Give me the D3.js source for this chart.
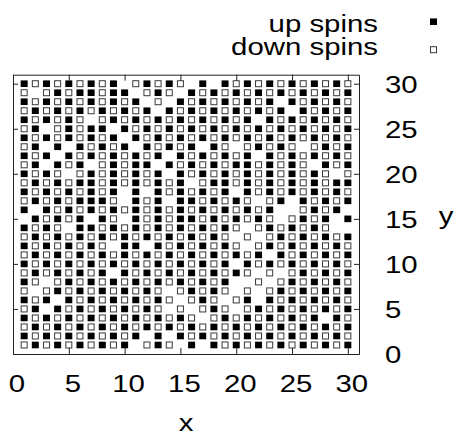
<!DOCTYPE html>
<html>
<head>
<meta charset="utf-8">
<script src="https://cdn.jsdelivr.net/npm/d3@7"></script>
<style>
  html, body { margin: 0; padding: 0; background: #fff; }
  svg { display: block; }
</style>
</head>
<body>
<svg id="chart" width="454" height="436"></svg>
<script>
// Tick values on both axes
const xTicks = [0, 5, 10, 15, 20, 25, 30];
const yTicks = [0, 5, 10, 15, 20, 25, 30];

// Lattice state, one string per row from y = 30 (top) down to y = 1,
// one character per site x = 1..30: U = up spin, D = down spin, . = empty site
const spinRows = [
  "UDUDUDUDU.DUDUD.U.UDUDUDUDUDUD",
  "D.DUDUUDUU.DUD.UDUDUDUDUDUDUDU",
  "UDUDUDUDUDU.D.UDUDUDUDU.UDUDUD",
  "DUDUDUDUDUDU.UDUDUDUDUDU.UDUDU",
  "UDUDUD.DUDUDUDUDUDUDU.UDUDUDUD",
  "DU.DUDUU.UDUDUDUDUDUDUDUDUDUDU",
  "UDUDUDUDU.UDUDUDUDUDUDUDUDUDUD",
  "DU.U.UDUDU.UDUDU.UD.DUDUD.DUDU",
  "UDU.UDUDUDUDU.UDUDUDU.UDUDUDUD",
  "DU.UDU.DUDUU.UDUDUDUUDUDUD.UDU",
  "UDUD.DUDUDUDU.UDUDUDUDUDUDUD.D",
  "DUDUDUUDUDUDUDU.DUUDUDUDUDUDUU",
  "UDUDUDUDU.U.UDUDUDU.UDUDUDUDUD",
  "DUDUDUUUD.UDU.UUDUDUD.DU.UDUDU",
  "U.UDUDUDUDUDUDUDUDUDUDU..DUDU.",
  ".UDUDU.UD.UDUDUUDUDUDUD.DUDU.U",
  "UDUD.UUDUDUDUDUDUDUD.DUDUDUD..",
  "DUDUDUDUDUDUDUDUDUD.D.DUDUDUDU",
  "UDUDUDUD.UU.UDUDUDUD.DUDUDUDUD",
  "DUDUDUDUDUDUDUDUDUDUDU.UDUDUDU",
  "UDUDUDUDUDUDUDUDUDU.UDUDUDUDUD",
  "DUDUDUDU.UDUDUDUDUDUD.D.DUDUDU",
  "UD.DUDUDUDUDUDUDUDU..D.DUDUDUD",
  "D.DUDUDUDUDUD.DUDUD.D.DUDUDUDU",
  "UDU.UDUDUDUDUD.DUD.DU.UDUDUDUD",
  "DU.UDUDUDUDUD.D.DUD.DUDUDUDUDU",
  "UDUDUDUDUDUDUDUD.DUDUDUDUDU.UD",
  "DUDUDUDUDUDUDUDUDUDUDUDUDUDUDU",
  "UDUDUDUDUDU.U.UDUDUDUDUDUDUDUD",
  "DUDUDUDUDU.DUD.U.UDUDUDUDUDUDU"
];

const legendLabels = ["up spins", "down spins"];
const axisTitles = ["x", "y"];

// Text is drawn slightly widened horizontally, like the stretched plot area
const FONT = "'Liberation Sans', Arial, Helvetica, sans-serif";
const FS = 23.5;
const SX = 1.25;

const svg = d3.select("#chart");
svg.append("rect").attr("width", 454).attr("height", 436).attr("fill", "#fff");

const xs = d3.scaleLinear().domain([0, 31]).range([13, 359]);
const ys = d3.scaleLinear().domain([0, 31]).range([354, 74.7]);

// Sites
const cells = spinRows.flatMap((row, i) =>
  Array.from(row).map((s, j) => ({ x: j + 1, y: 30 - i, s }))
).filter(d => d.s !== ".");

const gCells = svg.append("g");
gCells.selectAll("rect.up")
  .data(cells.filter(d => d.s === "U"))
  .join("rect")
  .attr("class", "up")
  .attr("x", d => xs(d.x) - 3.5)
  .attr("y", d => ys(d.y) - 3.3)
  .attr("width", 7)
  .attr("height", 6.6)
  .attr("fill", "#000");

gCells.selectAll("rect.down")
  .data(cells.filter(d => d.s === "D"))
  .join("rect")
  .attr("class", "down")
  .attr("x", d => xs(d.x) - 3)
  .attr("y", d => ys(d.y) - 3)
  .attr("width", 6)
  .attr("height", 6)
  .attr("fill", "#fff")
  .attr("stroke", "#3a3a3a")
  .attr("stroke-width", 1);

// Frame and inward ticks on all four sides
function styleAxis(g) {
  g.attr("font-family", FONT).attr("font-size", FS);
  g.selectAll("path.domain").attr("stroke", "#222");
  g.selectAll(".tick line").attr("stroke", "#222");
  g.selectAll("text").attr("fill", "#000");
}

const gBottom = svg.append("g")
  .attr("transform", `translate(0,${ys(0)})`)
  .call(d3.axisBottom(xs).tickValues(xTicks).tickSize(-6).tickSizeOuter(0).tickPadding(21))
  .call(styleAxis);
gBottom.selectAll("text")
  .attr("transform", `scale(${SX},1)`)
  .attr("x", 3.5 / SX);

svg.append("g")
  .attr("transform", `translate(0,${ys(31)})`)
  .call(d3.axisTop(xs).tickValues(xTicks).tickSize(-6).tickSizeOuter(0).tickFormat(() => ""))
  .call(styleAxis);

svg.append("g")
  .attr("transform", `translate(${xs(0)},0)`)
  .call(d3.axisLeft(ys).tickValues(yTicks).tickSize(-5).tickSizeOuter(0).tickFormat(() => ""))
  .call(styleAxis);

const gRight = svg.append("g")
  .attr("transform", `translate(${xs(31)},0)`)
  .call(d3.axisRight(ys).tickValues(yTicks).tickSize(-5).tickSizeOuter(0).tickPadding(26 / SX))
  .call(styleAxis);
gRight.selectAll("text")
  .attr("transform", `scale(${SX},1)`)
  .attr("dy", "0.36em");

// Axis titles
svg.append("text")
  .attr("transform", `translate(186,431) scale(${SX},1)`)
  .attr("text-anchor", "middle")
  .attr("font-family", FONT).attr("font-size", FS)
  .text(axisTitles[0]);
svg.append("text")
  .attr("transform", `translate(446,224) scale(${SX},1)`)
  .attr("text-anchor", "middle")
  .attr("font-family", FONT).attr("font-size", FS)
  .text(axisTitles[1]);

// Legend
const legend = svg.append("g");
const legendY = [32, 55];
const markerY = [21.7, 49.7];
legendLabels.forEach((label, i) => {
  legend.append("text")
    .attr("transform", `translate(378,${legendY[i]}) scale(${SX},1)`)
    .attr("text-anchor", "end")
    .attr("font-family", FONT).attr("font-size", FS)
    .text(label);
});
legend.append("rect")
  .attr("x", 433.5 - 3.5).attr("y", markerY[0] - 3.3)
  .attr("width", 7).attr("height", 6.6)
  .attr("fill", "#000");
legend.append("rect")
  .attr("x", 433.5 - 3).attr("y", markerY[1] - 3)
  .attr("width", 6).attr("height", 6)
  .attr("fill", "#fff").attr("stroke", "#3a3a3a").attr("stroke-width", 1);
</script>
</body>
</html>
